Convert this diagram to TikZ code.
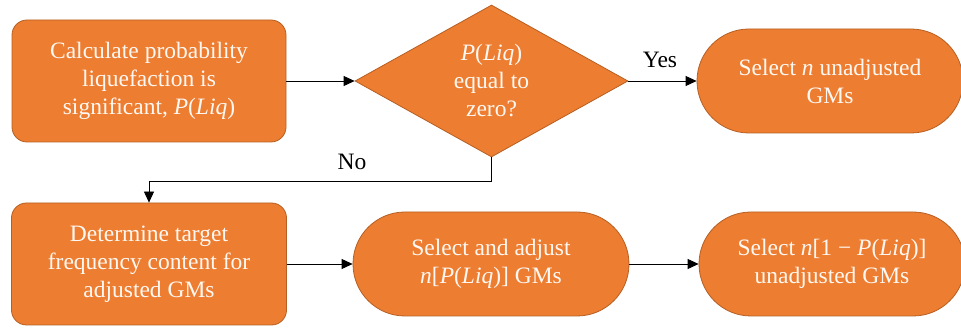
\documentclass[tikz,border=0pt]{standalone}
\usepackage{fontspec}
\setmainfont{Liberation Serif}
\newfontfamily\tnr{Liberation Serif}
\usetikzlibrary{shapes.geometric,arrows.meta}
\definecolor{boxfill}{HTML}{ED7D31}
\definecolor{boxline}{HTML}{B65F22}
\definecolor{boxtext}{HTML}{FFF8F2}
\begin{document}
\begin{tikzpicture}[x=1pt,y=-1pt,
  every node/.style={font=\tnr\fontsize{23.5}{28}\selectfont},
  base/.style={draw=boxline, line width=0.8pt, fill=boxfill, text=boxtext, align=center, inner sep=0pt},
  rbox/.style={base, rectangle, rounded corners=15pt},
  pill/.style={base, rectangle, rounded corners=52pt, minimum height=104pt},
  dec/.style={base, diamond, minimum width=273pt, minimum height=152pt},
  arr/.style={draw=black, line width=0.8pt, -{Triangle[length=11pt,width=10pt]}},
  lbl/.style={text=black, inner sep=0pt}]
\useasboundingbox (0,0) rectangle (961,328);
\node[rbox, minimum width=274pt, minimum height=122pt] (b1) at (149,81)
  {Calculate probability\\liquefaction is\\significant, \textit{P}(\textit{Liq})};
\node[dec] (d) at (491.5,81) {\textit{P}(\textit{Liq})\\equal to\\zero?};
\node[pill, minimum width=266pt] (b3) at (830,81) {Select \textit{n} unadjusted\\GMs};
\node[rbox, minimum width=275pt, minimum height=122pt] (b4) at (149,264)
  {Determine target\\frequency content for\\adjusted GMs};
\node[pill, minimum width=276pt] (b5) at (491,264) {Select and adjust\\\textit{n}[\textit{P}(\textit{Liq})] GMs};
\node[pill, minimum width=266pt] (b6) at (832,264) {Select \textit{n}[1 − \textit{P}(\textit{Liq})]\\unadjusted GMs};
\draw[arr] (b1.east) -- (d.west);
\draw[arr] (d.east) -- (b3.west);
\node[lbl] (yes) at (660,60) {Yes};
\draw[arr] (d.south) -- ++(0,24) coordinate (nc) -| (b4.north);
\node[lbl] (no) at (352,162) {No};
\draw[arr] (b4.east) -- (b5.west);
\draw[arr] (b5.east) -- (b6.west);
\end{tikzpicture}
\end{document}
